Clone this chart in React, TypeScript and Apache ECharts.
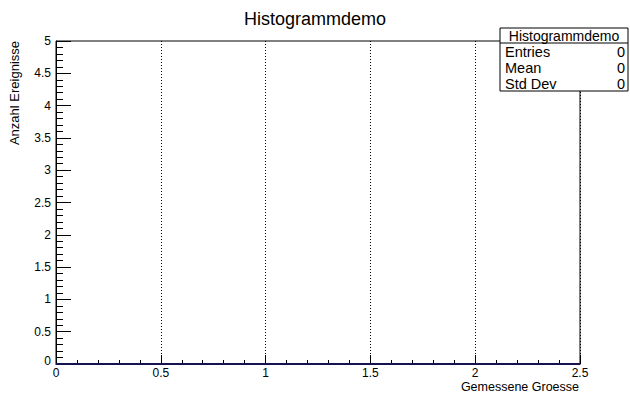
import React, { useEffect, useRef } from "react";
import * as echarts from "echarts";

const title = "Histogrammdemo";
const xAxisTitle = "Gemessene Groesse";
const yAxisTitle = "Anzahl Ereignisse";
const xRange = [0, 2.5];
const yRange = [0, 5];
// Histogram bin lower edges and contents (all empty)
const binEdges = [0, 0.25, 0.5, 0.75, 1, 1.25, 1.5, 1.75, 2, 2.25, 2.5];
const binCounts = [0, 0, 0, 0, 0, 0, 0, 0, 0, 0];
const statsLabels = ["Entries", "Mean", "Std Dev"];
const statsValues = ["0", "0", "0"];

const FONT = "'Liberation Sans', Arial, Helvetica, sans-serif";

export default function App() {
  const ref = useRef<HTMLDivElement>(null);
  useEffect(() => {
    if (!ref.current) return;
    const chart = echarts.init(ref.current, undefined, { renderer: "svg" });
    const stepData: number[][] = [];
    binCounts.forEach((c, i) => {
      stepData.push([binEdges[i], c]);
      stepData.push([binEdges[i + 1], c]);
    });
    const boxX = 500, boxY = 28, boxW = 128, boxH = 63, rowH = 16;
    const statGraphics: any[] = [
      { type: "rect", shape: { x: boxX, y: boxY, width: boxW, height: boxH }, style: { fill: "#fff", stroke: "#000", lineWidth: 1 }, z: 100 },
      { type: "line", shape: { x1: boxX, y1: boxY + 15, x2: boxX + boxW, y2: boxY + 15 }, style: { stroke: "#000", lineWidth: 1 }, z: 101 },
      { type: "text", x: boxX + boxW / 2, y: boxY + 7.5, style: { text: title, font: `14px ${FONT}`, fill: "#000", align: "center", verticalAlign: "middle" }, z: 101 },
    ];
    statsLabels.forEach((l, i) => {
      const y = boxY + 23.5 + i * rowH;
      statGraphics.push({ type: "text", x: boxX + 5, y, style: { text: l, font: `14.5px ${FONT}`, fill: "#000", align: "left", verticalAlign: "middle" }, z: 101 });
      statGraphics.push({ type: "text", x: boxX + boxW - 3, y, style: { text: statsValues[i], font: `14.5px ${FONT}`, fill: "#000", align: "right", verticalAlign: "middle" }, z: 101 });
    });
    chart.setOption({
      animation: false,
      backgroundColor: "#fff",
      title: {
        text: title,
        left: "center",
        top: 5,
        textStyle: { fontFamily: FONT, fontSize: 18, fontWeight: "normal", color: "#000" },
      },
      grid: { left: 56, right: 50, top: 41, bottom: 29, show: true, borderColor: "#000", borderWidth: 1, backgroundColor: "transparent" },
      xAxis: {
        type: "value",
        min: xRange[0],
        max: xRange[1],
        interval: 0.5,
        axisLine: { show: true, lineStyle: { color: "#000", width: 1 } },
        axisTick: { show: true, inside: true, length: 9, lineStyle: { color: "#000" } },
        minorTick: { show: true, splitNumber: 5, length: 4, lineStyle: { color: "#000" } },
        splitLine: { show: true, lineStyle: { color: "#000", type: [1, 2], width: 1 } },
        axisLabel: { fontFamily: FONT, fontSize: 12, lineHeight: 12, color: "#000", margin: 3, showMaxLabel: true, showMinLabel: true },
      },
      yAxis: {
        type: "value",
        min: yRange[0],
        max: yRange[1],
        interval: 0.5,
        axisLine: { show: true, lineStyle: { color: "#000", width: 1 } },
        axisTick: { show: true, inside: true, length: 15, lineStyle: { color: "#000" } },
        minorTick: { show: true, splitNumber: 5, length: 7, lineStyle: { color: "#000" } },
        splitLine: { show: false },
        axisLabel: {
          fontFamily: FONT, fontSize: 12, color: "#000", margin: 5,
          formatter: (v: number) => (v === 0 ? "{z|0}" : String(v)),
          rich: { z: { fontFamily: FONT, fontSize: 12, color: "#000", padding: [0, 0, 6, 0] } },
        },
      },
      series: [
        {
          type: "line",
          data: stepData,
          symbol: "none",
          lineStyle: { color: "#141450", width: 2 },
          z: 5,
        },
      ],
      graphic: [
        { type: "text", x: 579, y: 386.5, style: { text: xAxisTitle, font: `12.5px ${FONT}`, lineHeight: 12, fill: "#000", align: "right", verticalAlign: "middle" } },
        { type: "text", x: 14, y: 41, rotation: Math.PI / 2, style: { text: yAxisTitle, font: `13px ${FONT}`, fill: "#000", align: "right", verticalAlign: "middle" } },
        ...statGraphics,
      ],
    });
    return () => chart.dispose();
  }, []);
  return <div ref={ref} style={{ width: 630, height: 393, position: "absolute", left: 0, top: 0 }} />;
}
